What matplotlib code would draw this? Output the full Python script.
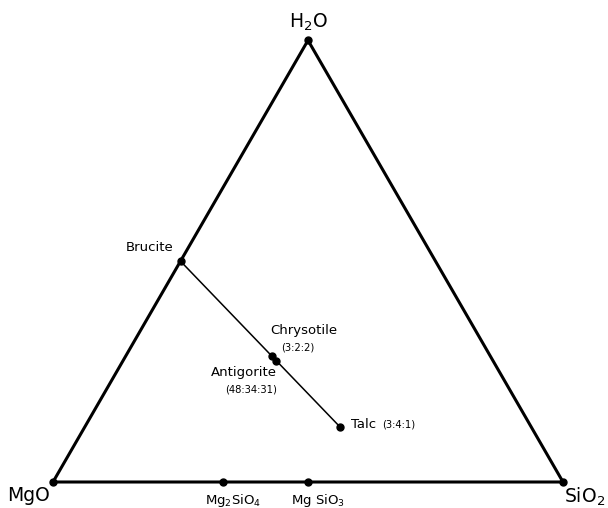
import numpy as np
import matplotlib
matplotlib.use("Agg")
import matplotlib.pyplot as plt

# ternary MgO - SiO2 - H2O, compositions as molar ratios (MgO : SiO2 : H2O)
vertex_names = ["MgO", "SiO$_2$", "H$_2$O"]
vertex_comps = [(1, 0, 0), (0, 1, 0), (0, 0, 1)]

phase_names = ["Brucite", "Chrysotile", "Antigorite", "Talc"]
phase_comps = [(1, 0, 1), (3, 2, 2), (48, 34, 31), (3, 4, 1)]
phase_ratios = ["", "(3:2:2)", "(48:34:31)", "(3:4:1)"]

anhydrous_names = ["Mg$_2$SiO$_4$", "Mg SiO$_3$"]
anhydrous_comps = [(2, 1, 0), (1, 1, 0)]


def to_xy(comp):
    m, s, h = np.array(comp, dtype=float) / sum(comp)
    return s + h / 2, h * np.sqrt(3) / 2


fig = plt.figure(figsize=(6.08, 5.08), dpi=100)
ax = fig.add_axes([0, 0, 1, 1])
ax.set_xlim(-53 / 510, 555 / 510)
ax.set_ylim(-26 / 510, 482 / 510)
ax.axis("off")

# triangle
tri = [to_xy(c) for c in vertex_comps + [vertex_comps[0]]]
ax.plot([p[0] for p in tri], [p[1] for p in tri], color="black", lw=2.2,
        solid_joinstyle="miter", zorder=2)
for c in vertex_comps:
    x, y = to_xy(c)
    ax.plot(x, y, "o", color="black", ms=5, zorder=3)

# brucite - talc tie line
bx, by = to_xy(phase_comps[0])
tx, ty = to_xy(phase_comps[3])
ax.plot([bx, tx], [by, ty], color="black", lw=1.1, zorder=2)

for c in phase_comps + anhydrous_comps:
    x, y = to_xy(c)
    ax.plot(x, y, "o", color="black", ms=5, zorder=3)

# vertex labels
ax.annotate(vertex_names[0], to_xy(vertex_comps[0]), xytext=(-2, -10),
            textcoords="offset points", ha="right", va="center", fontsize=13.5)
ax.annotate(vertex_names[1], to_xy(vertex_comps[1]), xytext=(1, -3),
            textcoords="offset points", ha="left", va="top", fontsize=13.5)
ax.annotate(vertex_names[2], to_xy(vertex_comps[2]), xytext=(0, 5),
            textcoords="offset points", ha="center", va="bottom", fontsize=13.5)

# mineral labels
lab = dict(textcoords="offset points", fontsize=9.5)
small = dict(textcoords="offset points", fontsize=7.2)
ax.annotate(phase_names[0], to_xy(phase_comps[0]), xytext=(-5, 9.5),
            ha="right", va="center", **lab)
ax.annotate(phase_names[1], to_xy(phase_comps[1]), xytext=(-0.7, 18),
            ha="left", va="center", **lab)
ax.annotate(phase_ratios[1], to_xy(phase_comps[1]), xytext=(7, 6.3),
            ha="left", va="center", **small)
ax.annotate(phase_names[2], to_xy(phase_comps[2]), xytext=(0.7, -8.6),
            ha="right", va="center", **lab)
ax.annotate(phase_ratios[2], to_xy(phase_comps[2]), xytext=(0.7, -20.5),
            ha="right", va="center", **small)
ax.annotate(phase_names[3], to_xy(phase_comps[3]), xytext=(8, 1.5),
            ha="left", va="center", **lab)
ax.annotate(phase_ratios[3], to_xy(phase_comps[3]), xytext=(30.5, 1.5),
            ha="left", va="center", **small)

for name, c in zip(anhydrous_names, anhydrous_comps):
    ax.annotate(name, to_xy(c), xytext=(7, -7), textcoords="offset points",
                ha="center", va="top", fontsize=9.5)

fig.savefig("out.png", dpi=100, facecolor="white")
